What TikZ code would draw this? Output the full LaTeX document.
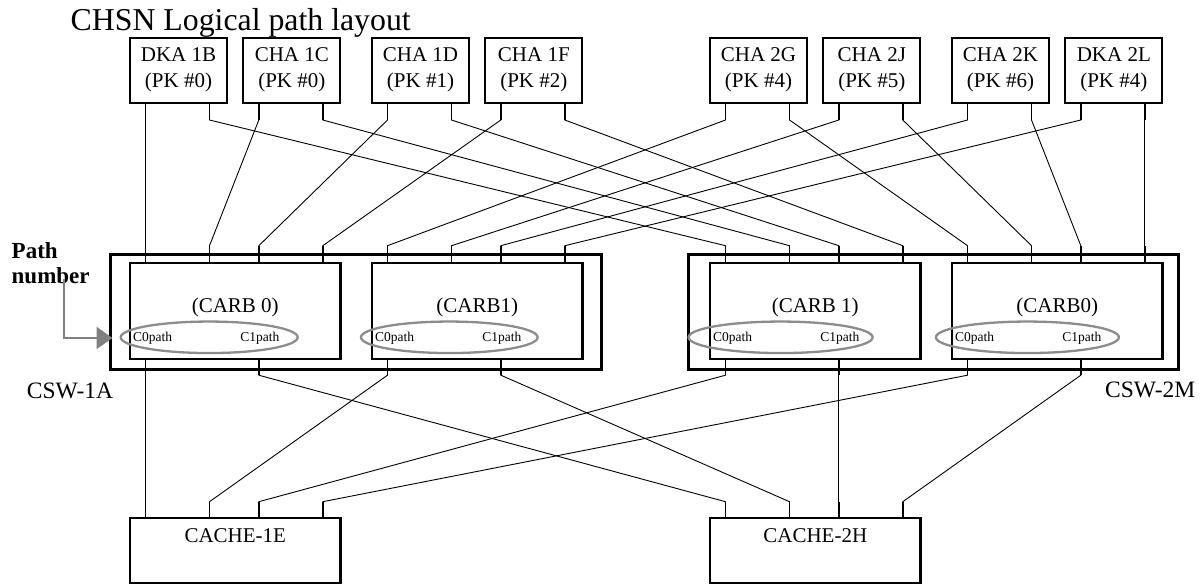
\documentclass[tikz,border=0pt]{standalone}
\usepackage{fontspec}
\setmainfont{Liberation Serif}
\usetikzlibrary{arrows.meta,shapes.geometric}
\definecolor{pathgray}{RGB}{128,128,128}
\definecolor{ellgray}{RGB}{140,140,140}
\begin{document}
\begin{tikzpicture}[x=1pt,y=-1pt,
  tbox/.style={draw, line width=2pt, inner sep=0pt, anchor=north west, minimum width=97pt, minimum height=64.2pt},
  carb/.style={draw, line width=2.2pt, inner sep=0pt, anchor=north west, minimum width=210.3pt, minimum height=96pt},
  cache/.style={draw, line width=2.2pt, inner sep=0pt, anchor=north west, minimum width=210.3pt, minimum height=65pt},
  csw/.style={draw, line width=3pt, inner sep=0pt, anchor=north west, minimum height=114.5pt},
  ell/.style={draw=ellgray, line width=2.3pt, ellipse, inner sep=0pt, minimum height=31.5pt},
  txt/.style={inner sep=0pt, font=\fontsize{21}{25}\selectfont},
  small/.style={inner sep=0pt, font=\fontsize{13.5}{16}\selectfont},
  big/.style={inner sep=0pt, font=\fontsize{23.5}{28}\selectfont},
  wire/.style={line width=0.9pt},
  stub/.style={line width=1.8pt},
]
\useasboundingbox (0,0) rectangle (1204,586);

% title
\node[inner sep=0pt, anchor=base west, font=\fontsize{31.8}{36}\selectfont] (title) at (70.5,30.7) {CHSN Logical path layout};

% top boxes
\node[tbox] (b1) at (129,37.3) {};
\node[tbox] (b2) at (242.3,37.3) {};
\node[tbox] (b3) at (371,37.3) {};
\node[tbox] (b4) at (484.3,37.3) {};
\node[tbox] (b5) at (709,37.3) {};
\node[tbox] (b6) at (822.3,37.3) {};
\node[tbox] (b7) at (951,37.3) {};
\node[tbox] (b8) at (1064.3,37.3) {};

\node[txt, anchor=base] (b1a) at (b1.center |- 0,61.7) {DKA 1B};
\node[txt, anchor=base] (b1b) at (b1.center |- 0,87.3) {(PK \#0)};
\node[txt, anchor=base] (b2a) at (b2.center |- 0,61.7) {CHA 1C};
\node[txt, anchor=base] (b2b) at (b2.center |- 0,87.3) {(PK \#0)};
\node[txt, anchor=base] (b3a) at (b3.center |- 0,61.7) {CHA 1D};
\node[txt, anchor=base] (b3b) at (b3.center |- 0,87.3) {(PK \#1)};
\node[txt, anchor=base] (b4a) at (b4.center |- 0,61.7) {CHA 1F};
\node[txt, anchor=base] (b4b) at (b4.center |- 0,87.3) {(PK \#2)};
\node[txt, anchor=base] (b5a) at (b5.center |- 0,61.7) {CHA 2G};
\node[txt, anchor=base] (b5b) at (b5.center |- 0,87.3) {(PK \#4)};
\node[txt, anchor=base] (b6a) at (b6.center |- 0,61.7) {CHA 2J};
\node[txt, anchor=base] (b6b) at (b6.center |- 0,87.3) {(PK \#5)};
\node[txt, anchor=base] (b7a) at (b7.center |- 0,61.7) {CHA 2K};
\node[txt, anchor=base] (b7b) at (b7.center |- 0,87.3) {(PK \#6)};
\node[txt, anchor=base] (b8a) at (b8.center |- 0,61.7) {DKA 2L};
\node[txt, anchor=base] (b8b) at (b8.center |- 0,87.3) {(PK \#4)};

% CSW outer boxes
\node[csw, minimum width=491pt] (cswA) at (109,253.2) {};
\node[csw, minimum width=490.3pt] (cswB) at (686.7,253.2) {};
\node[big, anchor=base west] (cswAl) at (26.7,398.3) {CSW-1A};
\node[big, anchor=base west] (cswBl) at (1105,397.3) {CSW-2M};

% CARB boxes
\node[carb] (c1) at (129,261.7) {};
\node[carb] (c2) at (371,261.7) {};
\node[carb] (c3) at (709,261.7) {};
\node[carb] (c4) at (951,261.7) {};
\node[txt, anchor=base] (c1l) at (c1.center |- 0,312) {(CARB 0)};
\node[txt, anchor=base] (c2l) at (c2.center |- 0,312) {(CARB1)};
\node[txt, anchor=base] (c3l) at (c3.center |- 0,312) {(CARB 1)};
\node[txt, anchor=base] (c4l) at (c4.center |- 0,312) {(CARB0)};

% ellipses and path labels
\node[ell, minimum width=177pt] (el1) at (209.2,337.3) {};
\node[ell, minimum width=176.7pt] (el2) at (449.3,337.3) {};
\node[ell, minimum width=184pt] (el3) at (780.6,337.3) {};
\node[ell, minimum width=183pt] (el4) at (1027.4,337.3) {};
\node[small, anchor=base west] (p1a) at ([xshift=4pt]c1.west |- 0,341) {C0path};
\node[small, anchor=base east] (p1b) at ([xshift=-62pt]c1.east |- 0,341) {C1path};
\node[small, anchor=base west] (p2a) at ([xshift=4pt]c2.west |- 0,341) {C0path};
\node[small, anchor=base east] (p2b) at ([xshift=-62pt]c2.east |- 0,341) {C1path};
\node[small, anchor=base west] (p3a) at ([xshift=4pt]c3.west |- 0,341) {C0path};
\node[small, anchor=base east] (p3b) at ([xshift=-62pt]c3.east |- 0,341) {C1path};
\node[small, anchor=base west] (p4a) at ([xshift=4pt]c4.west |- 0,341) {C0path};
\node[small, anchor=base east] (p4b) at ([xshift=-62pt]c4.east |- 0,341) {C1path};

% Path number label and arrow
\node[inner sep=0pt, anchor=base west, font=\bfseries\fontsize{23}{27}\selectfont] (pn1) at (11.5,258) {Path};
\node[inner sep=0pt, anchor=base west, font=\bfseries\fontsize{23}{27}\selectfont] (pn2) at (11.5,283) {number};
\coordinate (arrstart) at (64,279);
\coordinate (arrtip) at (112.5,338);
\draw[pathgray, line width=2.6pt, -{Triangle[length=16pt,width=22pt]}] (arrstart) |- (arrtip);

% cache boxes
\node[cache] (k1) at (129,516.7) {};
\node[cache] (k2) at (709,516.7) {};
\node[txt, anchor=base] (k1l) at (k1.center |- 0,542) {CACHE-1E};
\node[txt, anchor=base] (k2l) at (k2.center |- 0,542) {CACHE-2H};

% port coordinates
\foreach \b in {b1,b2,b3,b4,b5,b6,b7,b8}{
  \coordinate (\b L) at ([xshift=16.5pt]\b.south west);
  \coordinate (\b R) at ([xshift=80.5pt]\b.south west);
}
\foreach \c/\s/\t in {c1/sA1/sA3, c2/sA5/sA7, c3/sB1/sB3, c4/sB5/sB7}{
  \coordinate (\s) at ([xshift=16.5pt]\c.north west);
  \coordinate (\t) at ([xshift=129.8pt]\c.north west);
}
\coordinate (sA2) at ([xshift=80.5pt]c1.north west);
\coordinate (sA4) at ([xshift=193.8pt]c1.north west);
\coordinate (sA6) at ([xshift=80.5pt]c2.north west);
\coordinate (sA8) at ([xshift=193.8pt]c2.north west);
\coordinate (sB2) at ([xshift=80.5pt]c3.north west);
\coordinate (sB4) at ([xshift=193.8pt]c3.north west);
\coordinate (sB6) at ([xshift=80.5pt]c4.north west);
\coordinate (sB8) at ([xshift=193.8pt]c4.north west);
% CARB bottom ports
\coordinate (d1) at ([xshift=16.5pt]c1.south west);
\coordinate (d2) at ([xshift=129.8pt]c1.south west);
\coordinate (d3) at ([xshift=16.5pt]c2.south west);
\coordinate (d4) at ([xshift=129.8pt]c2.south west);
\coordinate (d5) at ([xshift=16.5pt]c3.south west);
\coordinate (d6) at ([xshift=129.8pt]c3.south west);
\coordinate (d7) at ([xshift=16.5pt]c4.south west);
\coordinate (d8) at ([xshift=129.8pt]c4.south west);
% cache ports
\coordinate (e1) at ([xshift=16.5pt]k1.north west);
\coordinate (e2) at ([xshift=80.5pt]k1.north west);
\coordinate (e3) at ([xshift=129.8pt]k1.north west);
\coordinate (e4) at ([xshift=193.8pt]k1.north west);
\coordinate (f1) at ([xshift=16.5pt]k2.north west);
\coordinate (f2) at ([xshift=80.5pt]k2.north west);
\coordinate (f3) at ([xshift=129.8pt]k2.north west);
\coordinate (f4) at ([xshift=193.8pt]k2.north west);

% top connectors: left leads -> CSW-1A, right leads -> CSW-2M
\foreach \src/\dst in {b1L/sA1, b2L/sA2, b3L/sA3, b4L/sA4, b5L/sA5, b6L/sA6, b7L/sA7, b8L/sA8,
                       b1R/sB1, b2R/sB2, b3R/sB3, b4R/sB4, b5R/sB5, b6R/sB6, b7R/sB7, b8R/sB8}{
  \draw[wire] (\src) -- ([yshift=-16.5pt]\src) -- ([yshift=16pt]\dst) -- (\dst);
  \draw[stub] (\src) -- ([yshift=-16.5pt]\src);
  \draw[stub] (\dst) -- ([yshift=16pt]\dst);
}

% bottom connectors
\foreach \src/\dst in {d1/e1, d2/f1, d3/e2, d4/f2, d5/e3, d6/f3, d7/e4, d8/f4}{
  \draw[wire] (\src) -- ([yshift=-15.3pt]\src) -- ([yshift=15pt]\dst) -- (\dst);
  \draw[stub] (\src) -- ([yshift=-15.3pt]\src);
  \draw[stub] (\dst) -- ([yshift=15pt]\dst);
}
\end{tikzpicture}
\end{document}
